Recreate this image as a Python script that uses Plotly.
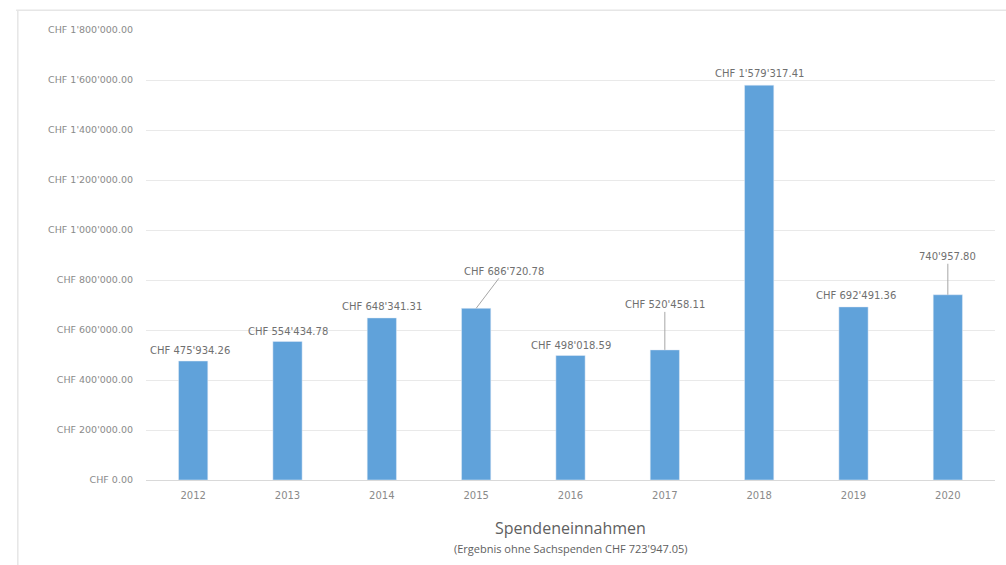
import plotly.graph_objects as go

years = ["2012", "2013", "2014", "2015", "2016", "2017", "2018", "2019", "2020"]
values = [475934.26, 554434.78, 648341.31, 686720.78, 498018.59, 520458.11, 1579317.41, 692491.36, 740957.80]
value_labels = ["CHF 475'934.26", "CHF 554'434.78", "CHF 648'341.31", "CHF 686'720.78",
                "CHF 498'018.59", "CHF 520'458.11", "CHF 1'579'317.41", "CHF 692'491.36",
                "740'957.80"]
tick_vals = [0, 200000, 400000, 600000, 800000, 1000000, 1200000, 1400000, 1600000, 1800000]
tick_text = ["CHF 0.00", "CHF 200'000.00", "CHF 400'000.00", "CHF 600'000.00", "CHF 800'000.00",
             "CHF 1'000'000.00", "CHF 1'200'000.00", "CHF 1'400'000.00", "CHF 1'600'000.00",
             "CHF 1'800'000.00"]
title = "Spendeneinnahmen"
subtitle = "(Ergebnis ohne Sachspenden CHF 723'947.05)"

# label offsets (pixels) and whether a leader line is drawn
label_ax = [-3, 0, 0, 28, 0, 0, 0, 2, 0]
label_ay = [-11, -10, -11, -37, -10, -45, -12, -11, -38]
leader = [False, False, False, True, False, True, False, False, True]

FONT = "Open Sans"
SMALL = "DejaVu Sans"
GRAY = "#8a8a8a"

fig = go.Figure(go.Bar(x=years, y=values, marker_color="#60A2DA", width=0.31))

for i, (v, lab, ax, ay, ld) in enumerate(zip(values, value_labels, label_ax, label_ay, leader)):
    fig.add_annotation(x=i, y=v, text=lab, showarrow=True, ax=ax, ay=ay,
                       arrowhead=0, arrowwidth=1,
                       arrowcolor="#A6A6A6" if ld else "rgba(0,0,0,0)",
                       font=dict(family=SMALL, size=10, color="#707070"))

fig.add_annotation(xref="paper", yref="paper", x=0.5, y=-0.107, text=title, showarrow=False,
                   font=dict(family=FONT, size=16, color="#606060"), yanchor="middle")
fig.add_annotation(xref="paper", yref="paper", x=0.5, y=-0.153, text=subtitle, showarrow=False,
                   font=dict(family=FONT, size=11, color="#606060"), yanchor="middle")

# faint chart frame
fig.add_shape(type="line", xref="paper", yref="paper", x0=-0.153, x1=1.02, y0=1.044, y1=1.044,
              line=dict(color="#E6E6E6", width=1.5))
fig.add_shape(type="line", xref="paper", yref="paper", x0=-0.151, x1=-0.151, y0=1.044, y1=-0.2,
              line=dict(color="#E6E6E6", width=1.5))

fig.update_layout(
    width=1006, height=565,
    margin=dict(l=146, r=11, t=30, b=85),
    plot_bgcolor="white", paper_bgcolor="white",
    showlegend=False,
    font=dict(family=SMALL, color=GRAY),
)
fig.update_xaxes(type="category", range=[-0.5, len(years) - 0.5], showgrid=False, showline=False, ticks="",
                 ticklabelstandoff=8,
                 tickfont=dict(family=SMALL, size=10, color=GRAY))
fig.update_yaxes(range=[0, 1800000], tickvals=tick_vals, ticktext=tick_text,
                 showgrid=True, gridcolor="#E9E9E9", gridwidth=1,
                 zeroline=True, zerolinecolor="#D9D9D9", zerolinewidth=1,
                 ticks="", ticklabelstandoff=12,
                 tickfont=dict(family=SMALL, size=9.5, color=GRAY))

fig.write_html("out.html")
